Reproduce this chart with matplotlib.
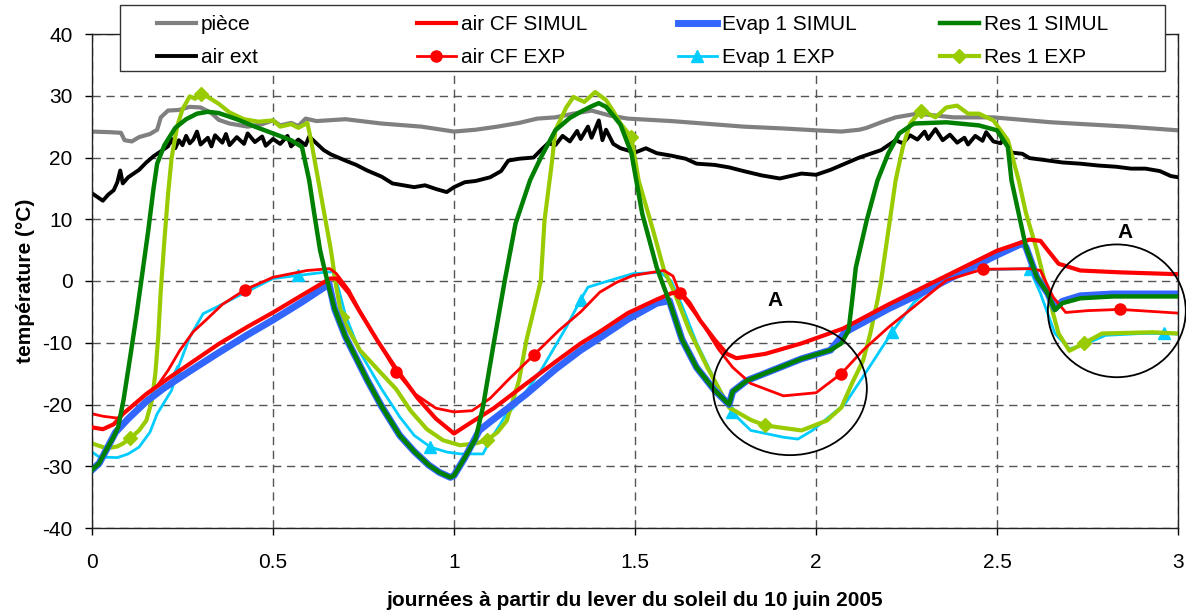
import numpy as np
import matplotlib
matplotlib.use("Agg")
import matplotlib.pyplot as plt
from matplotlib.patches import Ellipse, Rectangle

plt.rcParams['font.family'] = ['Liberation Sans', 'DejaVu Sans']
plt.rcParams['font.size'] = 15
plt.rcParams['axes.unicode_minus'] = False

# ---- data (x in days, y in degC) ----
piece_x = [0, 0.05, 0.08, 0.09, 0.11, 0.13, 0.16, 0.18, 0.19, 0.21, 0.24, 0.27, 0.3, 0.33, 0.35, 0.38,
           0.43, 0.47, 0.5, 0.52, 0.55, 0.57, 0.59, 0.62, 0.7, 0.8, 0.91, 1.0, 1.06, 1.12, 1.18, 1.23,
           1.28, 1.33, 1.38, 1.43, 1.48, 1.6, 1.69, 1.8, 1.91, 2.0, 2.07, 2.12, 2.14, 2.18, 2.22, 2.28,
           2.33, 2.38, 2.49, 2.65, 2.86, 3.0]
piece_y = [24.2, 24.1, 24.0, 22.8, 22.6, 23.3, 23.8, 24.5, 26.5, 27.6, 27.7, 28.2, 28.1, 27.2, 26.1, 25.5,
           25.0, 25.4, 26.0, 25.2, 25.6, 25.1, 26.3, 25.9, 26.2, 25.5, 25.0, 24.2, 24.5, 25.0, 25.6, 26.3,
           26.5, 27.1, 27.6, 26.8, 26.3, 25.9, 25.5, 25.0, 24.7, 24.4, 24.2, 24.5, 24.8, 25.7, 26.5, 27.1,
           26.8, 26.5, 26.5, 25.7, 25.0, 24.4]

ext_x = [0, 0.015, 0.03, 0.045, 0.06, 0.07, 0.078, 0.085, 0.1, 0.13, 0.15, 0.17, 0.19, 0.21, 0.22, 0.23,
         0.24, 0.25, 0.26, 0.27, 0.28, 0.29, 0.3, 0.32, 0.33, 0.34, 0.36, 0.37, 0.38, 0.4, 0.42, 0.43,
         0.45, 0.47, 0.48, 0.5, 0.52, 0.54, 0.55, 0.57, 0.59, 0.6, 0.62, 0.64, 0.66, 0.7, 0.73, 0.76,
         0.8, 0.83, 0.86, 0.89, 0.92, 0.95, 0.98, 1.0, 1.03, 1.06, 1.1, 1.13, 1.15, 1.18, 1.22, 1.24,
         1.26, 1.28, 1.3, 1.32, 1.34, 1.35, 1.37, 1.38, 1.4, 1.41, 1.42, 1.44, 1.46, 1.5, 1.53, 1.56,
         1.6, 1.64, 1.67, 1.72, 1.76, 1.8, 1.85, 1.9, 1.96, 2.0, 2.04, 2.08, 2.12, 2.15, 2.18, 2.2,
         2.22, 2.24, 2.26, 2.28, 2.3, 2.31, 2.33, 2.35, 2.37, 2.39, 2.41, 2.42, 2.44, 2.46, 2.47, 2.49,
         2.51, 2.52, 2.54, 2.57, 2.59, 2.63, 2.68, 2.73, 2.78, 2.83, 2.87, 2.91, 2.95, 2.98, 3.0]
ext_y = [14.2, 13.6, 13.0, 14.0, 14.7, 16.0, 17.9, 15.8, 16.8, 18.0, 19.2, 20.2, 21.0, 21.8, 23.0, 21.5,
         22.8, 22.0, 23.5, 22.3, 22.9, 24.2, 22.1, 23.2, 21.8, 23.6, 22.4, 23.8, 22.0, 23.3, 22.2, 23.9,
         22.5, 23.4, 21.9, 23.0, 22.2, 23.5, 21.8, 22.9, 22.0, 23.4, 22.3, 21.2, 20.5, 19.5, 18.8, 17.9,
         16.9, 15.8, 15.5, 15.2, 15.5, 14.9, 14.4, 15.2, 16.0, 16.2, 16.8, 17.8, 19.5, 19.8, 20.0, 21.2,
         22.3, 22.0, 23.5, 22.6, 24.3, 23.0, 25.0, 23.2, 26.0, 22.8, 24.5, 22.2, 21.5, 20.8, 21.5, 20.7,
         20.3, 19.8, 19.0, 18.8, 18.4, 17.8, 17.1, 16.6, 17.4, 17.2, 18.0, 19.0, 20.0, 20.6, 21.2, 22.0,
         22.8, 22.3, 23.6, 22.9, 24.2, 23.0, 24.6, 22.8, 23.7, 22.4, 23.2, 22.1, 23.5, 22.7, 24.1, 22.6,
         22.3, 23.4, 20.8, 20.6, 19.9, 19.6, 19.2, 19.0, 18.7, 18.5, 18.2, 18.2, 17.8, 17.0, 16.8]

cf_sim_x = [0, 0.03, 0.06, 0.086, 0.15, 0.2, 0.27, 0.35, 0.43, 0.5, 0.58, 0.658, 0.676, 0.71, 0.74, 0.79,
            0.84, 0.9, 0.95, 1.0, 1.05, 1.11, 1.2, 1.28, 1.35, 1.403, 1.48, 1.56, 1.6, 1.624, 1.65, 1.68,
            1.72, 1.754, 1.78, 1.86, 1.96, 2.075, 2.2, 2.29, 2.4, 2.5, 2.59, 2.62, 2.64, 2.67, 2.73, 2.84, 3.0]
cf_sim_y = [-23.7, -24.0, -23.2, -21.5, -18.3, -16.2, -13.4, -10.2, -7.4, -5.1, -2.3, 0.4, 0.4, -2.0, -5.0, -9.8,
            -14.2, -19.0, -22.3, -24.7, -22.8, -20.6, -16.6, -13.1, -10.1, -8.2, -5.2, -3.0, -2.0, -1.8, -3.5, -6.4,
            -9.5, -11.8, -12.5, -11.8, -10.1, -7.7, -3.8, -1.2, 2.0, 4.9, 6.7, 6.5, 5.0, 2.8, 1.7, 1.4, 1.1]

cf_exp_x = [0, 0.03, 0.07, 0.12, 0.18, 0.21, 0.243, 0.28, 0.317, 0.36, 0.423, 0.5, 0.594, 0.657, 0.675, 0.71,
            0.74, 0.79, 0.84, 0.89, 0.95, 1.0, 1.05, 1.1, 1.15, 1.22, 1.29, 1.35, 1.403, 1.45, 1.495, 1.58,
            1.605, 1.624, 1.685, 1.73, 1.77, 1.82, 1.91, 2.0, 2.07, 2.13, 2.2, 2.27, 2.36, 2.46, 2.59, 2.62,
            2.655, 2.69, 2.75, 2.84, 3.0]
cf_exp_y = [-21.5, -21.9, -22.2, -19.8, -17.0, -14.5, -11.2, -8.2, -6.2, -3.8, -1.4, 0.6, 1.7, 2.0, 1.2, -1.5,
            -4.8, -9.8, -14.7, -18.2, -20.6, -21.2, -21.0, -19.0, -16.0, -12.0, -8.0, -5.0, -1.8, -0.2, 0.9, 1.7,
            0.8, -2.0, -6.8, -11.0, -14.0, -16.6, -18.6, -18.1, -15.0, -11.2, -7.5, -4.2, 0.1, 1.9, 2.0, 1.7,
            -2.6, -5.1, -4.8, -4.6, -5.2]
cf_exp_marks = [0.423, 0.84, 1.22, 1.624, 2.07, 2.46, 2.84]

evap_sim_x = [0, 0.02, 0.04, 0.065, 0.1, 0.15, 0.2, 0.27, 0.35, 0.43, 0.5, 0.58, 0.655, 0.67, 0.7, 0.73,
              0.76, 0.8, 0.85, 0.89, 0.93, 0.96, 0.99, 1.0, 1.03, 1.07, 1.1, 1.2, 1.28, 1.35, 1.403, 1.48,
              1.56, 1.595, 1.63, 1.67, 1.72, 1.76, 1.77, 1.81, 1.9, 1.96, 2.04, 2.08, 2.2, 2.29, 2.4, 2.5,
              2.57, 2.58, 2.61, 2.64, 2.66, 2.68, 2.73, 2.82, 3.0]
evap_sim_y = [-30.6, -29.5, -27.3, -24.5, -22.3, -19.5, -17.3, -14.6, -11.6, -8.7, -6.3, -3.4, -0.5, -4.5, -9.0, -12.5,
              -16.0, -20.3, -25.0, -27.6, -29.8, -31.0, -31.8, -31.5, -28.6, -24.2, -22.8, -18.3, -14.3, -11.2, -9.2, -6.2,
              -3.6, -3.2, -9.5, -14.0, -17.7, -20.0, -17.9, -16.1, -14.0, -12.6, -11.2, -8.3, -4.5, -2.0, 1.3, 4.2,
              6.1, 5.5, 0.6, -2.0, -4.5, -3.3, -2.4, -2.1, -2.1]

evap_exp_x = [0, 0.02, 0.07, 0.1, 0.13, 0.16, 0.18, 0.22, 0.235, 0.27, 0.307, 0.345, 0.418, 0.5, 0.57, 0.64,
              0.665, 0.68, 0.7, 0.74, 0.8, 0.85, 0.89, 0.935, 0.98, 1.017, 1.08, 1.1, 1.14, 1.18, 1.24, 1.31,
              1.35, 1.37, 1.403, 1.495, 1.57, 1.6, 1.63, 1.67, 1.72, 1.767, 1.82, 1.91, 1.95, 1.99, 2.08, 2.13,
              2.18, 2.21, 2.27, 2.33, 2.4, 2.46, 2.59, 2.62, 2.66, 2.7, 2.74, 2.8, 2.9, 2.96, 3.0]
evap_exp_y = [-27.7, -28.5, -28.6, -28.0, -26.9, -24.5, -21.5, -17.7, -14.5, -9.1, -5.3, -4.2, -2.0, 0.4, 0.9, 1.4,
              1.5, -1.0, -5.5, -11.5, -17.5, -22.0, -25.0, -26.9, -27.7, -28.0, -28.0, -25.8, -22.0, -19.5, -14.5, -7.5,
              -3.0, -1.0, -0.4, 1.2, 1.4, 0.0, -4.0, -10.0, -16.0, -21.2, -24.2, -25.3, -25.6, -24.2, -19.9, -15.5,
              -11.0, -8.3, -3.5, -0.5, 1.2, 1.8, 2.0, -2.0, -8.5, -11.0, -10.3, -8.8, -8.5, -8.5, -8.6]
evap_exp_marks = [0.235, 0.57, 0.935, 1.35, 1.767, 2.21, 2.59, 2.96]

res_sim_x = [0, 0.02, 0.04, 0.06, 0.072, 0.087, 0.105, 0.123, 0.142, 0.155, 0.17, 0.18, 0.2, 0.23, 0.26, 0.29,
             0.32, 0.35, 0.4, 0.45, 0.5, 0.55, 0.58, 0.6, 0.615, 0.63, 0.65, 0.67, 0.7, 0.73, 0.76, 0.8,
             0.85, 0.89, 0.93, 0.96, 0.99, 1.0, 1.03, 1.06, 1.08, 1.108, 1.14, 1.17, 1.21, 1.24, 1.28, 1.32,
             1.35, 1.38, 1.4, 1.42, 1.44, 1.46, 1.49, 1.52, 1.56, 1.6, 1.63, 1.67, 1.72, 1.76, 1.77, 1.81,
             1.9, 1.96, 2.04, 2.07, 2.09, 2.1, 2.11, 2.14, 2.17, 2.2, 2.23, 2.27, 2.36, 2.45, 2.5, 2.53,
             2.54, 2.56, 2.58, 2.61, 2.64, 2.66, 2.68, 2.73, 2.82, 3.0]
res_sim_y = [-30.6, -29.5, -27.3, -25.2, -23.7, -19.3, -12.5, -5.5, 2.5, 8.0, 15.0, 19.0, 22.0, 24.8, 26.2, 27.1,
             27.4, 27.2, 26.2, 25.0, 23.9, 22.8, 21.7, 16.3, 10.5, 5.0, 0.0, -4.5, -9.0, -12.5, -16.0, -20.3,
             -25.0, -27.6, -29.8, -31.0, -31.8, -31.5, -28.6, -25.5, -20.4, -10.7, 0.0, 9.3, 16.3, 20.0, 24.4, 26.4,
             27.4, 28.3, 28.8, 28.2, 26.8, 25.3, 20.7, 10.9, 2.2, -4.2, -9.5, -14.0, -17.7, -20.0, -17.9, -16.1,
             -14.0, -12.6, -11.2, -10.1, -8.0, -3.1, 2.2, 9.8, 16.3, 20.7, 23.9, 25.5, 25.7, 25.2, 24.4, 21.7,
             16.3, 10.9, 5.5, 0.6, -2.0, -4.7, -3.6, -2.8, -2.5, -2.5]

res_exp_x = [0, 0.04, 0.07, 0.086, 0.105, 0.13, 0.15, 0.165, 0.175, 0.183, 0.19, 0.2, 0.21, 0.22, 0.235, 0.25,
             0.27, 0.285, 0.3, 0.32, 0.35, 0.38, 0.42, 0.46, 0.5, 0.52, 0.55, 0.57, 0.595, 0.605, 0.63, 0.66,
             0.675, 0.69, 0.74, 0.8, 0.84, 0.88, 0.925, 0.97, 1.017, 1.06, 1.09, 1.12, 1.146, 1.18, 1.2, 1.22,
             1.24, 1.25, 1.27, 1.28, 1.31, 1.33, 1.36, 1.39, 1.42, 1.44, 1.46, 1.49, 1.51, 1.55, 1.58, 1.61,
             1.65, 1.7, 1.76, 1.82, 1.86, 1.96, 2.03, 2.07, 2.1, 2.13, 2.15, 2.17, 2.18, 2.2, 2.22, 2.24,
             2.26, 2.29, 2.31, 2.33, 2.36, 2.39, 2.42, 2.45, 2.49, 2.53, 2.56, 2.58, 2.61, 2.64, 2.67, 2.7,
             2.74, 2.79, 2.93, 3.0]
res_exp_y = [-26.3, -27.1, -26.8, -26.3, -25.5, -24.2, -22.6, -19.5, -15.0, -9.0, -1.5, 6.6, 14.0, 20.0, 25.0, 27.8,
             29.9, 29.5, 30.3, 29.8, 28.7, 27.3, 26.2, 25.8, 26.0, 25.0, 25.4, 24.8, 25.6, 22.8, 14.7, 5.0,
             -1.0, -5.9, -11.2, -15.0, -17.5, -21.0, -24.0, -25.8, -26.6, -26.3, -25.8, -24.5, -22.6, -16.0, -9.6, -4.8,
             0.1, 9.8, 19.0, 24.4, 28.1, 29.8, 29.0, 30.6, 29.3, 27.5, 25.5, 23.3, 16.3, 8.2, 1.8, -2.0,
             -8.0, -14.0, -20.5, -22.5, -23.4, -24.2, -22.6, -20.5, -16.5, -12.9, -8.5, -3.1, 0.1, 8.2, 16.3, 21.7,
             25.5, 27.6, 27.1, 26.5, 28.1, 28.4, 27.1, 27.1, 26.0, 22.8, 16.3, 11.0, 5.0, -2.0, -8.5, -11.3,
             -10.1, -8.5, -8.3, -8.5]
res_exp_marks = [0.105, 0.3, 0.69, 1.09, 1.49, 1.86, 2.29, 2.74]

x_ticks = [0, 0.5, 1, 1.5, 2, 2.5, 3]
x_tick_labels = ['0', '0.5', '1', '1.5', '2', '2.5', '3']
y_ticks = [-40, -30, -20, -10, 0, 10, 20, 30, 40]


def idx(xs, marks):
    return [xs.index(m) for m in marks]


fig = plt.figure(figsize=(11.86, 6.11), dpi=100)
ax = fig.add_axes([92 / 1186, 1 - 528 / 611, 1086 / 1186, 494 / 611])

h_piece, = ax.plot(piece_x, piece_y, color='#808080', lw=3, label='pièce', zorder=2)
h_ext, = ax.plot(ext_x, ext_y, color='black', lw=2.8, label='air ext', zorder=2.1)
h_eexp, = ax.plot(evap_exp_x, evap_exp_y, color='#00CCFF', lw=2, marker='^', ms=9,
                  markevery=idx(evap_exp_x, evap_exp_marks), label='Evap 1 EXP', zorder=2.2)
h_rexp, = ax.plot(res_exp_x, res_exp_y, color='#99CC00', lw=3, marker='D', ms=7,
                  markevery=idx(res_exp_x, res_exp_marks), label='Res 1 EXP', zorder=2.3)
h_esim, = ax.plot(evap_sim_x, evap_sim_y, color='#3366FF', lw=5, label='Evap 1 SIMUL', zorder=2.4)
h_cexp, = ax.plot(cf_exp_x, cf_exp_y, color='#FF0000', lw=2, marker='o', ms=8,
                  markevery=idx(cf_exp_x, cf_exp_marks), label='air CF EXP', zorder=2.5)
h_csim, = ax.plot(cf_sim_x, cf_sim_y, color='#FF0000', lw=3, label='air CF SIMUL', zorder=2.6)
h_rsim, = ax.plot(res_sim_x, res_sim_y, color='#008000', lw=3.2, label='Res 1 SIMUL', zorder=2.7)

# zones "A"
ax.add_patch(Ellipse((1.928, -17.4), 0.425, 21.6, fill=False, ec='black', lw=1.3, clip_on=False, zorder=3))
ax.add_patch(Ellipse((2.831, -4.83), 0.381, 21.5, fill=False, ec='black', lw=1.3, clip_on=False, zorder=3))
ax.text(1.887, -3.1, 'A', ha='center', va='center', fontweight='bold', fontsize=15)
ax.text(2.855, 7.9, 'A', ha='center', va='center', fontweight='bold', fontsize=15)

ax.set_xlim(0, 3)
ax.set_ylim(-40, 40)
ax.set_xticks(x_ticks)
ax.set_xticklabels(x_tick_labels)
ax.set_yticks(y_ticks)
ax.grid(True, color='#555555', lw=1, ls=(0, (6, 4)))
ax.tick_params(axis='both', direction='out', length=5, width=1, labelsize=15)
ax.tick_params(axis='y', pad=9)
ax.tick_params(axis='x', pad=13)
for s in ax.spines.values():
    s.set_linewidth(1)
    s.set_color('#222222')

ax.set_xlabel('journées à partir du lever du soleil du 10 juin 2005', fontweight='bold', fontsize=15, labelpad=14)
ax.set_ylabel('température (°C)', fontweight='bold', fontsize=15, labelpad=5)

# legend box + four columns
fig.add_artist(Rectangle((120 / 1186, 1 - 71 / 611), 1045 / 1186, 66 / 611, transform=fig.transFigure,
                         facecolor='white', edgecolor='#333333', lw=1, zorder=4))
cols = [[h_piece, h_ext], [h_csim, h_cexp], [h_esim, h_eexp], [h_rsim, h_rexp]]
col_x = [157, 417, 678, 940]
for hs, cx in zip(cols, col_x):
    fig.legend(handles=hs, loc='upper left', bbox_to_anchor=(cx / 1186, 1 - 15 / 611), frameon=False,
               borderpad=0, borderaxespad=0, handlelength=1.85, handletextpad=0.25, labelspacing=0.68,
               fontsize=15)

fig.savefig('out.png', dpi=100)
